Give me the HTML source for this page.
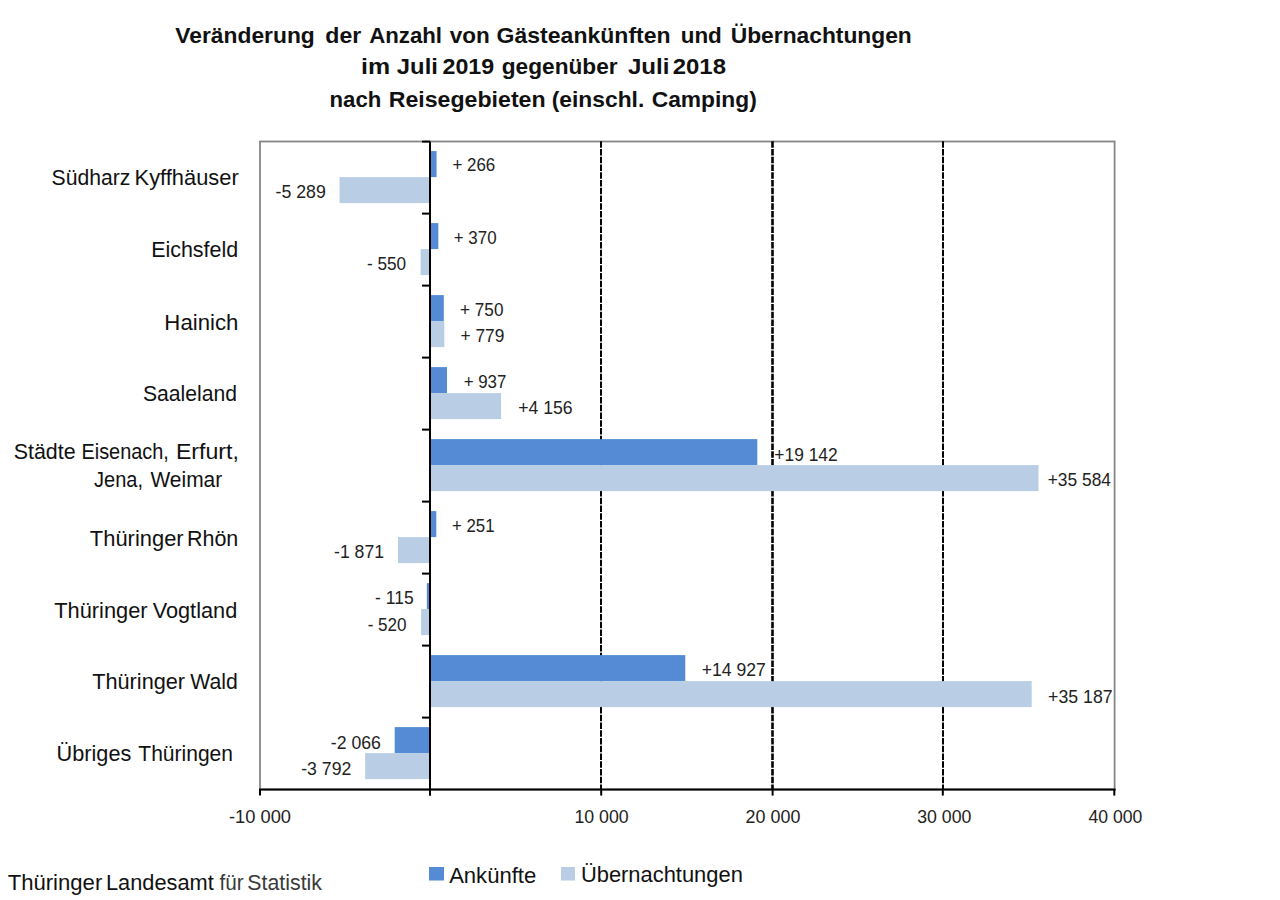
<!DOCTYPE html>
<html><head><meta charset="utf-8"><style>
html,body{margin:0;padding:0;background:#fff;}
svg{display:block;}
text{font-family:"Liberation Sans",sans-serif;}
</style></head><body>
<svg width="1280" height="900" viewBox="0 0 1280 900">
<rect width="1280" height="900" fill="#fff"/>
<rect x="260.00" y="141.5" width="854.60" height="648.10" fill="none" stroke="#858585" stroke-width="1.8"/>
<line x1="601.00" y1="141.2" x2="601.00" y2="789.60" stroke="#000" stroke-width="2" stroke-dasharray="6.45 1.3"/>
<line x1="772.50" y1="141.2" x2="772.50" y2="789.60" stroke="#000" stroke-width="2.6" stroke-dasharray="6.45 1.3"/>
<line x1="943.00" y1="141.2" x2="943.00" y2="789.60" stroke="#000" stroke-width="2" stroke-dasharray="6.45 1.3"/>
<rect x="430.00" y="151.10" width="6.55" height="26" fill="#558ad5"/>
<rect x="339.56" y="177.10" width="90.44" height="26" fill="#b9cde5"/>
<rect x="430.00" y="223.10" width="8.33" height="26" fill="#558ad5"/>
<rect x="420.60" y="249.10" width="9.40" height="26" fill="#b9cde5"/>
<rect x="430.00" y="295.10" width="13.82" height="26" fill="#558ad5"/>
<rect x="430.00" y="321.10" width="14.32" height="26" fill="#b9cde5"/>
<rect x="430.00" y="367.10" width="17.02" height="26" fill="#558ad5"/>
<rect x="430.00" y="393.10" width="71.07" height="26" fill="#b9cde5"/>
<rect x="430.00" y="439.10" width="327.33" height="26" fill="#558ad5"/>
<rect x="430.00" y="465.10" width="608.49" height="26" fill="#b9cde5"/>
<rect x="430.00" y="511.10" width="6.29" height="26" fill="#558ad5"/>
<rect x="398.01" y="537.10" width="31.99" height="26" fill="#b9cde5"/>
<rect x="426.83" y="583.10" width="3.17" height="26" fill="#558ad5"/>
<rect x="421.11" y="609.10" width="8.89" height="26" fill="#b9cde5"/>
<rect x="430.00" y="655.10" width="255.25" height="26" fill="#558ad5"/>
<rect x="430.00" y="681.10" width="601.70" height="26" fill="#b9cde5"/>
<rect x="394.67" y="727.10" width="35.33" height="26" fill="#558ad5"/>
<rect x="365.16" y="753.10" width="64.84" height="26" fill="#b9cde5"/>
<line x1="430.00" y1="141.60" x2="430.00" y2="795.60" stroke="#000" stroke-width="2"/>
<line x1="422.00" y1="141.60" x2="430.00" y2="141.60" stroke="#000" stroke-width="2"/>
<line x1="422.00" y1="213.60" x2="430.00" y2="213.60" stroke="#000" stroke-width="2"/>
<line x1="422.00" y1="285.60" x2="430.00" y2="285.60" stroke="#000" stroke-width="2"/>
<line x1="422.00" y1="357.60" x2="430.00" y2="357.60" stroke="#000" stroke-width="2"/>
<line x1="422.00" y1="429.60" x2="430.00" y2="429.60" stroke="#000" stroke-width="2"/>
<line x1="422.00" y1="501.60" x2="430.00" y2="501.60" stroke="#000" stroke-width="2"/>
<line x1="422.00" y1="573.60" x2="430.00" y2="573.60" stroke="#000" stroke-width="2"/>
<line x1="422.00" y1="645.60" x2="430.00" y2="645.60" stroke="#000" stroke-width="2"/>
<line x1="422.00" y1="717.60" x2="430.00" y2="717.60" stroke="#000" stroke-width="2"/>
<line x1="259.00" y1="789.60" x2="1115.60" y2="789.60" stroke="#000" stroke-width="2"/>
<line x1="260.00" y1="789.60" x2="260.00" y2="795.60" stroke="#000" stroke-width="2"/>
<line x1="430.00" y1="789.60" x2="430.00" y2="795.60" stroke="#000" stroke-width="2"/>
<line x1="601.20" y1="789.60" x2="601.20" y2="795.60" stroke="#000" stroke-width="2"/>
<line x1="772.60" y1="789.60" x2="772.60" y2="795.60" stroke="#000" stroke-width="2"/>
<line x1="942.80" y1="789.60" x2="942.80" y2="795.60" stroke="#000" stroke-width="2"/>
<line x1="1114.30" y1="789.60" x2="1114.30" y2="795.60" stroke="#000" stroke-width="2"/>
<rect x="429" y="867" width="15" height="13.5" fill="#558ad5"/>
<rect x="561" y="867" width="14" height="13.5" fill="#b9cde5"/>
<text xml:space="preserve" transform="translate(175.33,42.85) scale(1.0330,1)" font-size="22.10" font-weight="bold" fill="#111">Veränderung</text>
<text xml:space="preserve" transform="translate(325.33,42.85) scale(1.0434,1)" font-size="22.10" font-weight="bold" fill="#111">der</text>
<text xml:space="preserve" transform="translate(369.14,42.85) scale(1.0066,1)" font-size="22.10" font-weight="bold" fill="#111">Anzahl</text>
<text xml:space="preserve" transform="translate(449.69,42.85) scale(1.0198,1)" font-size="22.10" font-weight="bold" fill="#111">von</text>
<text xml:space="preserve" transform="translate(496.58,42.85) scale(1.0429,1)" font-size="22.10" font-weight="bold" fill="#111">Gästeankünften</text>
<text xml:space="preserve" transform="translate(680.70,42.85) scale(1.0164,1)" font-size="22.10" font-weight="bold" fill="#111">und</text>
<text xml:space="preserve" transform="translate(730.73,42.85) scale(1.0321,1)" font-size="22.10" font-weight="bold" fill="#111">Übernachtungen</text>
<text xml:space="preserve" transform="translate(361.06,74.40) scale(1.1467,1)" font-size="21.74" font-weight="bold" fill="#111">im</text>
<text xml:space="preserve" transform="translate(396.84,74.40) scale(1.0970,1)" font-size="21.74" font-weight="bold" fill="#111">Juli</text>
<text xml:space="preserve" transform="translate(442.49,74.40) scale(1.0685,1)" font-size="21.74" font-weight="bold" fill="#111">2019</text>
<text xml:space="preserve" transform="translate(501.79,74.40) scale(1.0423,1)" font-size="21.74" font-weight="bold" fill="#111">gegenüber</text>
<text xml:space="preserve" transform="translate(627.94,74.40) scale(1.1096,1)" font-size="21.74" font-weight="bold" fill="#111">Juli</text>
<text xml:space="preserve" transform="translate(672.76,74.40) scale(1.1002,1)" font-size="21.74" font-weight="bold" fill="#111">2018</text>
<text xml:space="preserve" transform="translate(329.56,107.00) scale(0.9881,1)" font-size="22.46" font-weight="bold" fill="#111">nach</text>
<text xml:space="preserve" transform="translate(388.74,107.00) scale(1.0305,1)" font-size="22.46" font-weight="bold" fill="#111">Reisegebieten</text>
<text xml:space="preserve" transform="translate(551.76,107.00) scale(1.0157,1)" font-size="22.46" font-weight="bold" fill="#111">(einschl.</text>
<text xml:space="preserve" transform="translate(651.69,107.00) scale(1.0154,1)" font-size="22.46" font-weight="bold" fill="#111">Camping)</text>
<text xml:space="preserve" transform="translate(51.55,185.00) scale(0.9745,1)" font-size="21.74" fill="#111">Südharz</text>
<text xml:space="preserve" transform="translate(134.60,185.00) scale(1.0058,1)" font-size="21.74" fill="#111">Kyffhäuser</text>
<text xml:space="preserve" transform="translate(151.13,256.80) scale(0.9876,1)" font-size="21.74" fill="#111">Eichsfeld</text>
<text xml:space="preserve" transform="translate(164.37,329.80) scale(1.0203,1)" font-size="21.74" fill="#111">Hainich</text>
<text xml:space="preserve" transform="translate(142.95,401.20) scale(0.9741,1)" font-size="21.74" fill="#111">Saaleland</text>
<text xml:space="preserve" transform="translate(13.74,458.75) scale(0.9848,1)" font-size="21.74" fill="#111">Städte</text>
<text xml:space="preserve" transform="translate(81.46,458.75) scale(0.9156,1)" font-size="21.74" fill="#111">Eisenach,</text>
<text xml:space="preserve" transform="translate(175.89,458.75) scale(1.0661,1)" font-size="21.74" fill="#111">Erfurt,</text>
<text xml:space="preserve" transform="translate(94.10,487.25) scale(0.9210,1)" font-size="21.74" fill="#111">Jena,</text>
<text xml:space="preserve" transform="translate(150.50,487.25) scale(0.9632,1)" font-size="21.74" fill="#111">Weimar</text>
<text xml:space="preserve" transform="translate(89.81,545.60) scale(1.0084,1)" font-size="21.74" fill="#111">Thüringer</text>
<text xml:space="preserve" transform="translate(186.98,545.60) scale(0.9877,1)" font-size="21.74" fill="#111">Rhön</text>
<text xml:space="preserve" transform="translate(54.21,617.60) scale(1.0040,1)" font-size="21.74" fill="#111">Thüringer</text>
<text xml:space="preserve" transform="translate(152.69,617.60) scale(0.9994,1)" font-size="21.74" fill="#111">Vogtland</text>
<text xml:space="preserve" transform="translate(92.21,689.30) scale(0.9986,1)" font-size="21.74" fill="#111">Thüringer</text>
<text xml:space="preserve" transform="translate(190.19,689.30) scale(0.9761,1)" font-size="21.74" fill="#111">Wald</text>
<text xml:space="preserve" transform="translate(56.62,761.40) scale(0.9980,1)" font-size="21.74" fill="#111">Übriges</text>
<text xml:space="preserve" transform="translate(138.28,761.40) scale(0.9684,1)" font-size="21.74" fill="#111">Thüringen</text>
<text xml:space="preserve" transform="translate(452.55,171.40) scale(0.9390,1)" font-size="18.00" fill="#222">+ 266</text>
<text xml:space="preserve" transform="translate(275.50,198.20) scale(0.9856,1)" font-size="18.00" fill="#222">-5 289</text>
<text xml:space="preserve" transform="translate(453.75,243.90) scale(0.9417,1)" font-size="18.00" fill="#222">+ 370</text>
<text xml:space="preserve" transform="translate(366.93,269.90) scale(0.9542,1)" font-size="18.00" fill="#222">- 550</text>
<text xml:space="preserve" transform="translate(460.04,315.80) scale(0.9530,1)" font-size="18.00" fill="#222">+ 750</text>
<text xml:space="preserve" transform="translate(460.53,341.60) scale(0.9628,1)" font-size="18.00" fill="#222">+ 779</text>
<text xml:space="preserve" transform="translate(463.65,387.70) scale(0.9396,1)" font-size="18.00" fill="#222">+ 937</text>
<text xml:space="preserve" transform="translate(518.32,414.20) scale(0.9784,1)" font-size="18.00" fill="#222">+4 156</text>
<text xml:space="preserve" transform="translate(774.33,460.50) scale(0.9653,1)" font-size="18.00" fill="#222">+19 142</text>
<text xml:space="preserve" transform="translate(1047.73,486.10) scale(0.9646,1)" font-size="18.00" fill="#222">+35 584</text>
<text xml:space="preserve" transform="translate(451.96,531.90) scale(0.9353,1)" font-size="18.00" fill="#222">+ 251</text>
<text xml:space="preserve" transform="translate(334.00,557.80) scale(0.9825,1)" font-size="18.00" fill="#222">-1 871</text>
<text xml:space="preserve" transform="translate(375.11,603.75) scale(0.9722,1)" font-size="18.00" fill="#222">- 115</text>
<text xml:space="preserve" transform="translate(367.63,630.80) scale(0.9491,1)" font-size="18.00" fill="#222">- 520</text>
<text xml:space="preserve" transform="translate(701.82,675.50) scale(0.9770,1)" font-size="18.00" fill="#222">+14 927</text>
<text xml:space="preserve" transform="translate(1048.11,702.50) scale(0.9841,1)" font-size="18.00" fill="#222">+35 187</text>
<text xml:space="preserve" transform="translate(330.80,748.50) scale(0.9827,1)" font-size="18.00" fill="#222">-2 066</text>
<text xml:space="preserve" transform="translate(301.21,774.50) scale(0.9813,1)" font-size="18.00" fill="#222">-3 792</text>
<text xml:space="preserve" transform="translate(228.98,823.00) scale(1.0003,1)" font-size="18.29" fill="#222">-10 000</text>
<text xml:space="preserve" transform="translate(574.47,823.00) scale(0.9693,1)" font-size="18.29" fill="#222">10 000</text>
<text xml:space="preserve" transform="translate(745.60,823.00) scale(0.9796,1)" font-size="18.29" fill="#222">20 000</text>
<text xml:space="preserve" transform="translate(917.24,823.00) scale(0.9681,1)" font-size="18.29" fill="#222">30 000</text>
<text xml:space="preserve" transform="translate(1088.50,823.00) scale(0.9633,1)" font-size="18.29" fill="#222">40 000</text>
<text xml:space="preserve" transform="translate(449.14,882.60) scale(1.0155,1)" font-size="21.74" fill="#111">Ankünfte</text>
<text xml:space="preserve" transform="translate(580.90,882.40) scale(1.0076,1)" font-size="21.74" fill="#111">Übernachtungen</text>
<text xml:space="preserve" transform="translate(7.70,889.75) scale(1.0170,1)" font-size="21.74" fill="#111">Thüringer</text>
<text xml:space="preserve" transform="translate(105.90,889.75) scale(1.0029,1)" font-size="21.74" fill="#111">Landesamt</text>
<text xml:space="preserve" transform="translate(219.49,889.75) scale(0.9764,1)" font-size="21.16" fill="#3a3a3a">für</text>
<text xml:space="preserve" transform="translate(247.29,889.75) scale(1.0088,1)" font-size="21.16" fill="#3a3a3a">Statistik</text>
</svg>
</body></html>
